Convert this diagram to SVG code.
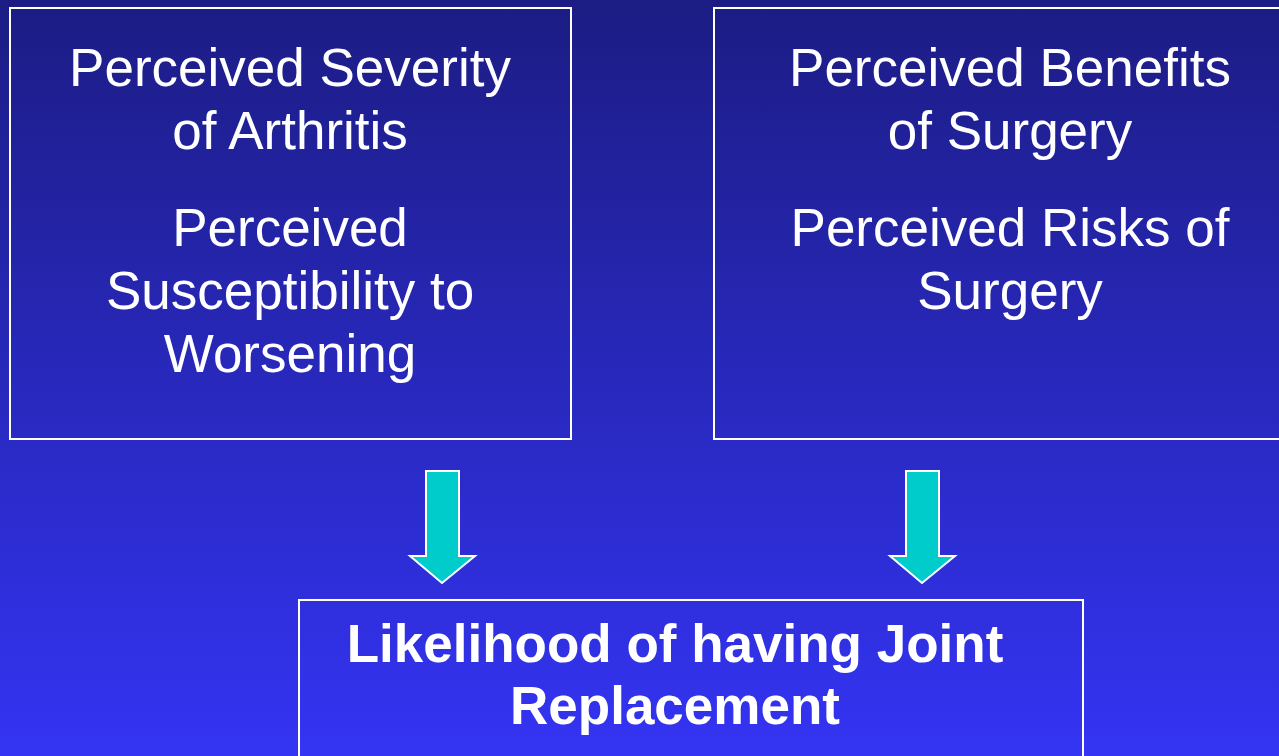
<svg xmlns="http://www.w3.org/2000/svg" width="1279" height="756" viewBox="0 0 1279 756">
<defs>
<linearGradient id="bg" x1="0" y1="0" x2="0" y2="1">
<stop offset="0" stop-color="#1c1c84"/>
<stop offset="1" stop-color="#3434f4"/>
</linearGradient>
<style>
.box{fill:none;stroke:#ffffff;stroke-width:2}
.t{font-family:"Liberation Sans",Arial,sans-serif;font-size:53px;fill:#ffffff;text-anchor:middle}
.b{font-weight:bold}
.arrow{fill:#00cccc;stroke:#ffffff;stroke-width:2;stroke-linejoin:miter}
</style>
</defs>
<rect width="1279" height="756" fill="url(#bg)"/>
<g id="node-threat">
<rect class="box" x="10" y="8" width="561" height="431"/>
<text class="t" x="290" y="86">Perceived Severity</text>
<text class="t" x="290" y="149">of Arthritis</text>
<text class="t" x="290" y="246">Perceived</text>
<text class="t" x="290" y="309">Susceptibility to</text>
<text class="t" x="290" y="372">Worsening</text>
</g>
<g id="node-surgery">
<rect class="box" x="714" y="8" width="580" height="431"/>
<text class="t" x="1010" y="86">Perceived Benefits</text>
<text class="t" x="1010" y="149">of Surgery</text>
<text class="t" x="1010" y="246">Perceived Risks of</text>
<text class="t" x="1010" y="309">Surgery</text>
</g>
<g id="node-likelihood">
<rect class="box" x="299" y="600" width="784" height="170"/>
<text class="t b" x="675" y="662">Likelihood of having Joint</text>
<text class="t b" x="675" y="724">Replacement</text>
</g>
<g id="connectors">
<polygon class="arrow" points="426,471 459,471 459,556 475,556 442,583 410,556 426,556"/>
<polygon class="arrow" points="906,471 939,471 939,556 955,556 922,583 890,556 906,556"/>
</g>
</svg>
